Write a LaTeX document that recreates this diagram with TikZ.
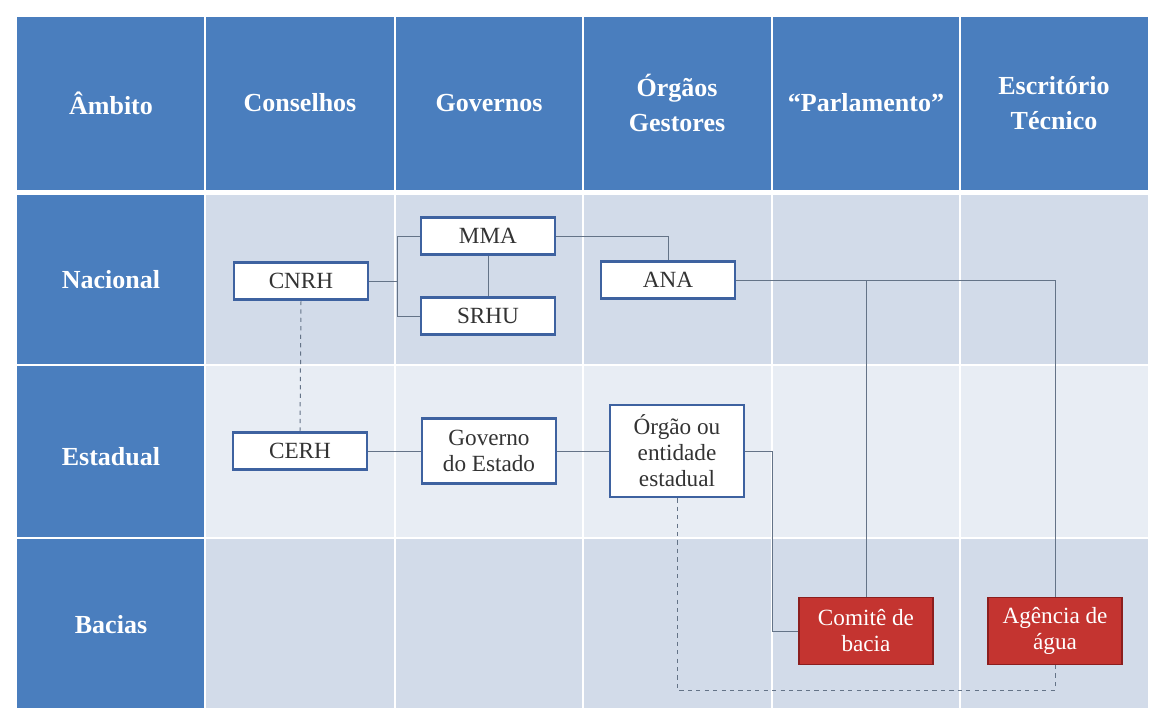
\documentclass[tikz,border=0pt]{standalone}
\usepackage{fontspec}
\setmainfont{Liberation Serif}
\usetikzlibrary{positioning}

\definecolor{hdrblue}{RGB}{74,126,190}
\definecolor{rowdark}{RGB}{210,219,233}
\definecolor{rowlight}{RGB}{232,237,244}
\definecolor{boxline}{RGB}{62,98,160}
\definecolor{redfill}{RGB}{196,52,48}
\definecolor{redline}{RGB}{140,30,30}
\definecolor{linkgray}{RGB}{100,115,135}

\begin{document}
\begin{tikzpicture}[x=0.025cm, y=-0.025cm,
            hdr/.style={text=white, font=\fontsize{18.5}{25}\selectfont\bfseries, align=center},
            box/.style={draw=boxline, line width=1.8pt, fill=white, minimum width=3.35cm, minimum height=0.93cm, align=center, inner sep=1pt, text=black!80, font=\fontsize{16.5}{18.5}\selectfont},
            redbox/.style={draw=redline, line width=1.2pt, fill=redfill, minimum width=3.35cm, minimum height=1.68cm, align=center, inner sep=1pt, text=white, font=\fontsize{16.5}{18.5}\selectfont},
            link/.style={draw=linkgray, line width=0.7pt},
            dlink/.style={link, dashed}
        ]

        \useasboundingbox (0,0) rectangle (1160,719);
        \fill[white] (0,0) rectangle (1160,719);

        % table background
        \fill[hdrblue] (17,17) rectangle (1148,190);
        \fill[rowdark] (205,195) rectangle (1148,365);
        \fill[rowlight] (205,365) rectangle (1148,538);
        \fill[rowdark] (205,538) rectangle (1148,708);
        \fill[hdrblue] (17,195) rectangle (205,708);
        \foreach \x in {205,395,583,772,960}
            \draw[white, line width=1pt] (\x,17) -- (\x,708);
        \foreach \y in {365,538}
            \draw[white, line width=1.2pt] (17,\y) -- (1148,\y);

        % header row
        \node[hdr] (ambito) at (111,103) {Âmbito};
        \node[hdr] (conselhos) at (300,103) {Conselhos};
        \node[hdr] (governos) at (489,103) {Governos};
        \node[hdr] (orgaos) at (677,103) {Órgãos\\Gestores};
        \node[hdr] (parlamento) at (866,103) {“Parlamento”};
        \node[hdr] (escritorio) at (1054,103) {Escritório\\Técnico};

        % first column
        \node[hdr] (nacional) at (111,280) {Nacional};
        \node[hdr] (estadual) at (111,457) {Estadual};
        \node[hdr] (bacias) at (111,625) {Bacias};

        % boxes
        \node[box] (cnrh) at (301,281) {CNRH};
        \node[box] (mma) at (488,236) {MMA};
        \node[box] (srhu) at (488,316) {SRHU};
        \node[box] (ana) at (668,280) {ANA};
        \node[box] (cerh) at (300,451) {CERH};
        \node[box, minimum height=1.63cm] (governo) at (489,451) {Governo\\do Estado};
        \node[box, minimum height=2.3cm] (orgao) at (677,451) {Órgão ou\\entidade\\estadual};
        \node[redbox] (comite) at (866,631) {Comitê de\\bacia};
        \node[redbox] (agencia) at (1055,631) {Agência de\\água};

        \coordinate (jn) at (397,281);
        \coordinate (base) at (677,690);

        % connectors
        \draw[link] (cnrh.east) -- (jn);
        \draw[link] (mma.west) -| (jn);
        \draw[link] (srhu.west) -| (jn);
        \draw[link] (mma.south) -- (srhu.north);
        \draw[link] (mma.east) -| (ana.north);
        \draw[link] (ana.east) -| (comite.north);
        \draw[link] (ana.east) -| (agencia.north);
        \draw[dlink] (cnrh.south) -- (cerh.north);
        \draw[link] (cerh.east) -- (governo.west);
        \draw[link] (governo.east) -- (orgao.west);
        \draw[link] (orgao.east) -- ++(27,0) |- (comite.west);
        \draw[dlink] (orgao.south) -- (base) -| (agencia.south);

    \end{tikzpicture}
\end{document}
